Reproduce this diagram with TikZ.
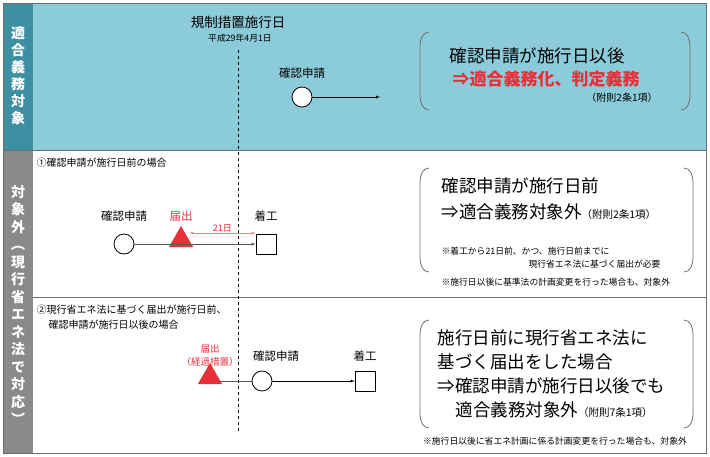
\documentclass[tikz,border=0pt]{standalone}
\usepackage{fontspec}
\setmainfont{Noto Sans CJK JP}
\usetikzlibrary{positioning}
\usetikzlibrary{shapes}
\definecolor{tealdark}{HTML}{3F8FA3}
\definecolor{teallight}{HTML}{8CCCDA}
\definecolor{sidegray}{HTML}{8A8A8A}
\definecolor{framegray}{HTML}{6E6E6E}
\definecolor{notered}{HTML}{E8303A}
\tikzset{
  circ/.style={draw, circle, thick, fill=white, minimum size=20pt, inner sep=0pt},
  sq/.style={draw, thick, fill=white, minimum size=20pt, inner sep=0pt},
  tri/.style={regular polygon, regular polygon sides=3, fill=notered, minimum size=28pt, inner sep=0pt},
  lbl/.style={font=\fontsize{11.5}{13}\selectfont},
  small/.style={font=\fontsize{8.8}{10}\selectfont, align=left},
  big/.style={font=\fontsize{17.5}{20}\selectfont, align=left},
  side/.style={text=white, font=\fontsize{14}{17}\selectfont\bfseries, align=center},
}
\newcommand{\paren}[4]{% x1,y1,x2,y2
\draw[thick, framegray] (#1+9,#2) to[out=180,in=90] (#1,#2+14) -- (#1,#4-14) to[out=-90,in=180] (#1+9,#4);
\draw[thick, framegray] (#3-9,#2) to[out=0,in=90] (#3,#2+14) -- (#3,#4-14) to[out=-90,in=0] (#3-9,#4);}
\begin{document}
\begin{tikzpicture}[x=1pt,y=-1pt]
\useasboundingbox (0,0) rectangle (710,456);
%bands
\fill[teallight] (3,3) rectangle (706,150);
\fill[tealdark] (3,3) rectangle (33,150);
\fill[sidegray] (3,150) rectangle (33,453);
\draw[framegray, thick] (3,3) rectangle (706,453);
\draw[framegray, thick] (3,150) -- (706,150);
\draw[framegray] (33,297) -- (706,297);
%side labels
\node[side] (topside) at (18,76) {適\\合\\義\\務\\対\\象};
\node[side, font=\fontsize{14}{17.5}\selectfont\bfseries] (lowside) at (18,305) {対\\象\\外\\︵\\現\\行\\省\\エ\\ネ\\法\\で\\対\\応\\︶};
%dashed day line
\coordinate (dtop) at (238,50);
\coordinate (dbot) at (238,432);
\draw[dashed, thick] (dtop) -- (dbot);
\node[lbl, font=\fontsize{13.5}{15}\selectfont] (dayname) at (238,22) {規制措置施行日};
\node[small] (daydate) at (240,38) {平成29年4月1日};
%top row
\node[lbl] (app0) at (302,73) {確認申請};
\node[circ] (c0) at (302,97) {};
\coordinate (e0) at (380,97);
\draw[-latex] (c0) -- (e0);
\paren{420}{32}{690}{110}
\node[big] (t0a) at (537,56) {確認申請が施行日以後};
\node[big, text=notered, font=\fontsize{17}{18}\selectfont\bfseries] (t0b) at (546,79) {⇒適合義務化、判定義務};
\node[small, font=\fontsize{10}{11}\selectfont] (t0c) at (622,98) {（附則2条1項）};
%case 1
\node[small, anchor=west, font=\fontsize{10}{11}\selectfont] (h1) at (33,163) {①確認申請が施行日前の場合};
\node[circ] (c1) at (124,244) {};
\node[tri] (f1) at (181,240) {};
\node[sq] (s1) at (266,244) {};
\node[lbl] (app1) at (124,216) {確認申請};
\node[lbl, text=notered] (fl1) at (181,216) {届出};
\node[lbl] (st1) at (266,216) {着工};
\draw[-latex, gray!70!black] (c1) -- (s1);
\draw[latex-latex, notered!60] (f1.east |- 0,233) -- node[above, lbl, font=\fontsize{9}{10}\selectfont, text=notered, inner sep=1pt] (d21) {21日} (s1.west |- 0,233);
\paren{420}{168}{693}{272}
\node[big, anchor=west] (t1a) at (438,186) {確認申請が施行日前};
\node[big, anchor=west] (t1b) at (438,212) {⇒適合義務対象外\fontsize{10.5}{11}\selectfont（附則2条1項）};
\node[small, anchor=west] (n1a) at (438,251) {※着工から21日前、かつ、施行日前までに};
\node[small, anchor=west] (n1b) at (525,264) {現行省エネ法に基づく届出が必要};
\node[small, anchor=west] (n1c) at (438,282) {※施行日以後に基準法の計画変更を行った場合も、対象外};
%case 2
\node[small, anchor=west, font=\fontsize{10}{11}\selectfont] (h2a) at (33,310) {②現行省エネ法に基づく届出が施行日前、};
\node[small, anchor=west, font=\fontsize{10}{11}\selectfont] (h2b) at (45,325) {確認申請が施行日以後の場合};
\node[tri] (f2) at (210,377) {};
\node[circ] (c2) at (262,381) {};
\node[sq] (s2) at (365,381) {};
\node[lbl, text=notered, align=center, font=\fontsize{9.5}{13}\selectfont] (fl2) at (210,355) {届出\\（経過措置）};
\node[lbl] (app2) at (276,356) {確認申請};
\node[lbl] (st2) at (365,356) {着工};
\draw[gray!70!black] (f2.east |- c2) -- (c2);
\draw[-latex] (c2) -- (s2);
\paren{420}{320}{693}{428}
\node[big, anchor=west] (t2a) at (434,338) {施行日前に現行省エネ法に};
\node[big, anchor=west] (t2b) at (434,362) {基づく届出をした場合};
\node[big, anchor=west] (t2c) at (434,386) {⇒確認申請が施行日以後でも};
\node[big, anchor=west] (t2d) at (452,410) {適合義務対象外\fontsize{10.5}{11}\selectfont（附則7条1項）};
\node[small] (n2) at (555,441) {※施行日以後に省エネ計画に係る計画変更を行った場合も、対象外};
\end{tikzpicture}
\end{document}
